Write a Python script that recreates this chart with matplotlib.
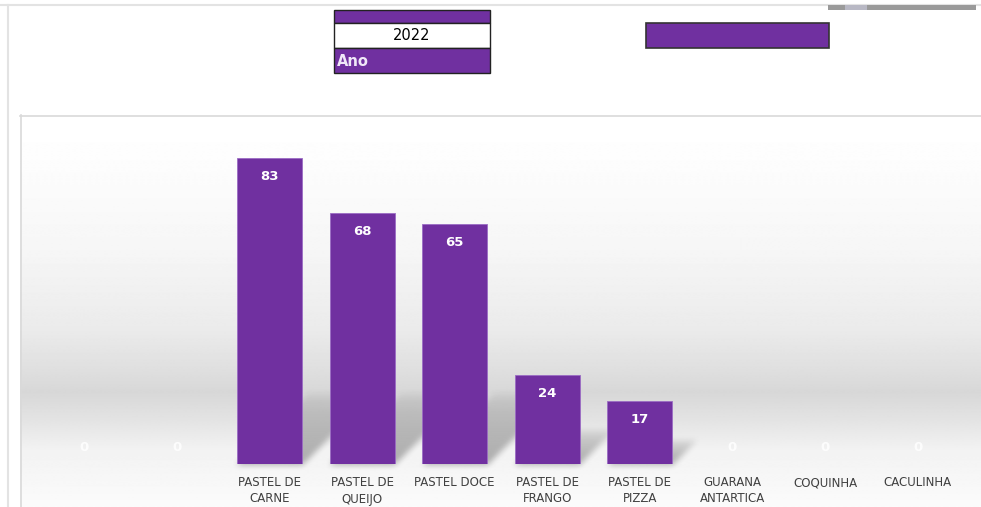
import numpy as np
import matplotlib
matplotlib.use("Agg")
import matplotlib.pyplot as plt
from matplotlib.patches import Rectangle

# data
categories = ["PASTEL DE\nCARNE", "PASTEL DE\nQUEIJO", "PASTEL DOCE", "PASTEL DE\nFRANGO",
              "PASTEL DE\nPIZZA", "GUARANA\nANTARTICA", "COQUINHA", "CACULINHA"]
leading_zero_labels = ["", ""]
values = [0, 0, 83, 68, 65, 24, 17, 0, 0, 0]
tick_labels = leading_zero_labels + categories
year = "2022"
filter_label = "Ano"

PURPLE = "#7030A0"
W, H = 981, 507

fig = plt.figure(figsize=(W / 100, H / 100), dpi=100)

# background canvas in pixel coordinates
bg = fig.add_axes([0, 0, 1, 1], zorder=0)
bg.set_xlim(0, W)
bg.set_ylim(H, 0)
bg.axis("off")

# chart area gradient
stops_y = [115, 150, 250, 330, 370, 392, 420, 450, 507]
stops_v = [1.0, 0.995, 0.965, 0.92, 0.875, 0.845, 0.89, 0.95, 0.985]
ys = np.linspace(115, 507, 400)
grad = np.interp(ys, stops_y, stops_v)[:, None]
bg.imshow(np.repeat(grad, 2, axis=1), cmap="gray", vmin=0, vmax=1, aspect="auto",
          extent=[20, W, 507, 115], zorder=0, interpolation="bilinear")

# frame lines
bg.plot([0, W], [5, 5], color="#e3e3e3", lw=1.5, zorder=1)
bg.plot([8, 8], [5, H], color="#e3e3e3", lw=1.5, zorder=1)
bg.plot([20.5, 20.5], [115, H], color="#d9d9d9", lw=1.2, zorder=1)
bg.plot([20, W], [115.5, 115.5], color="#d9d9d9", lw=1.2, zorder=1)

# slicer widgets
bg.add_patch(Rectangle((334, 10), 156, 13, facecolor=PURPLE, edgecolor="#222222", lw=1, zorder=3))
bg.add_patch(Rectangle((334, 23), 156, 25, facecolor="white", edgecolor="#222222", lw=1, zorder=3))
bg.add_patch(Rectangle((334, 48), 156, 25, facecolor=PURPLE, edgecolor="#222222", lw=1, zorder=3))
bg.text(412, 36, year, ha="center", va="center", fontsize=10.5, color="black", zorder=4)
bg.text(337, 61, filter_label, ha="left", va="center", fontsize=10.5, color="#f0e8f8",
        fontweight="bold", zorder=4)
bg.add_patch(Rectangle((646, 23), 183, 25, facecolor=PURPLE, edgecolor="#333333", lw=1.2, zorder=3))

# scrollbar
bg.add_patch(Rectangle((828, 5), 148, 5, facecolor="#9a9a9a", edgecolor="none", zorder=3))
bg.add_patch(Rectangle((845, 5), 22, 5, facecolor="#b8b8c4", edgecolor="none", zorder=3))

# bar axes positioned in pixels
base_y = 464
px_per_unit = 3.69
ymax = 90
left, right = 38, 964
top_y = base_y - ymax * px_per_unit
ax = fig.add_axes([left / W, 1 - base_y / H, (right - left) / W, (base_y - top_y) / H], zorder=2)
ax.patch.set_alpha(0)

x = np.arange(len(values))
spacing = (right - left) / len(values)
bar_w = 65 / spacing

# soft diagonal shadows behind bars (blurred mask)
yy, xx = np.mgrid[0:H, 0:W].astype(float)
shadow = np.zeros((H, W))
for xi, v in zip(x, values):
    if v <= 0:
        continue
    cx = left + spacing * (xi + 0.5)
    xl, xr = cx - 32.5, cx + 32.5
    d = min(0.4 * v * px_per_unit, 72)
    up = base_y - yy
    inside = (up >= 0) & (up <= d) & (xx - up >= xl) & (xx - up <= xr)
    fade = np.clip(1 - up / (d + 1e-9), 0, 1) ** 0.5
    shadow = np.maximum(shadow, inside * fade)
k = np.ones(7) / 7
for _ in range(2):
    shadow = np.apply_along_axis(lambda r: np.convolve(r, k, mode="same"), 1, shadow)
    shadow = np.apply_along_axis(lambda c: np.convolve(c, k, mode="same"), 0, shadow)
rgba = np.zeros((H, W, 4))
rgba[..., 3] = shadow * 0.3
bg.imshow(rgba, extent=[0, W, H, 0], aspect="auto", zorder=1, interpolation="bilinear")

bars = ax.bar(x, values, width=bar_w, color=PURPLE, edgecolor="#9b6cc4", linewidth=0.6)
for xi, v in zip(x, values):
    if v > 0:
        ax.text(xi, v - 5, str(v), ha="center", va="center", color="white",
                fontsize=9.5, fontweight="bold")
    else:
        ax.text(xi, 4.5, "0", ha="center", va="center", color="white",
                fontsize=9.5, fontweight="bold", alpha=0.85)

ax.set_xlim(-0.5, len(values) - 0.5)
ax.set_ylim(0, ymax)
ax.set_xticks(x)
ax.set_xticklabels(tick_labels, fontsize=8.5, color="#404040", linespacing=1.3)
ax.tick_params(axis="x", length=0, pad=9)
ax.set_yticks([])
for s in ax.spines.values():
    s.set_visible(False)

fig.savefig("out.png", dpi=100)
